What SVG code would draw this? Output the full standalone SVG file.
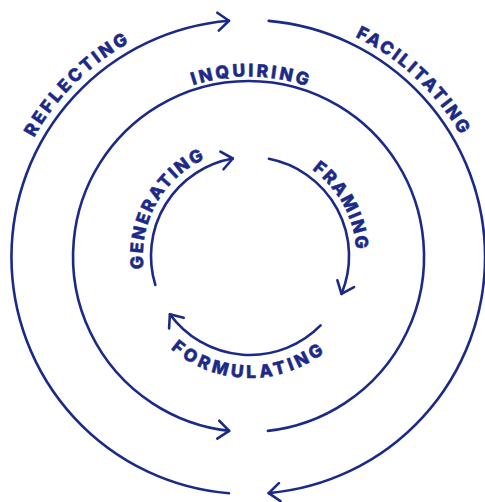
<svg xmlns="http://www.w3.org/2000/svg" width="485" height="502" viewBox="0 0 485 502">
  <style>
    .ring { fill: none; stroke: #1c2a87; stroke-width: 2.6; stroke-linecap: round; }
    .lbl { font-family: "Inter", "Open Sans", "Liberation Sans", sans-serif; font-weight: 800; font-size: 17.5px; fill: #1c2a87; stroke: #1c2a87; stroke-width: 0.5; stroke-linejoin: round; }
  </style>
  <defs>
    <marker id="chev" markerUnits="userSpaceOnUse" markerWidth="30" markerHeight="30" refX="0" refY="0" viewBox="-15 -15 30 30" orient="auto" overflow="visible">
      <path d="M-11,-9 L0,0 L-11,9" fill="none" stroke="#1c2a87" stroke-width="2.6" stroke-linecap="round" stroke-linejoin="round"/>
    </marker>
    <!-- baselines for the labels -->
    <path id="tp-reflecting" d="M47.3,397.5 A245,245 0 0 1 388.5,56.3"/>
    <path id="tp-facilitating" d="M100.6,61.3 A245,245 0 0 1 453.5,390.4"/>
    <path id="tp-inquiring" d="M71.5,223.7 A180,180 0 0 1 426,226.8"/>
    <path id="tp-generating" d="M182.6,339.1 A107,107 0 0 1 284.8,154.8"/>
    <path id="tp-framing" d="M215.5,155.7 A106,106 0 0 1 316.7,338.4"/>
    <path id="tp-formulating" d="M129.3,273.9 A122,122 0 0 0 369.5,280.3"/>
  </defs>

  <g id="connectors">
    <!-- outer cycle -->
    <path class="ring" d="M229,493.2 A237,237 0 0 1 229,20.8" marker-end="url(#chev)"/>
    <path class="ring" d="M268.7,20.9 A237,237 0 0 1 268.7,493.1" marker-end="url(#chev)"/>
    <!-- middle cycle -->
    <path class="ring" d="M267.9,430.9 A175.5,175.5 0 1 0 229.2,430.9" marker-end="url(#chev)"/>
    <!-- inner cycle -->
    <path class="ring" d="M155.3,284.9 A99,99 0 0 1 232.8,158.5" marker-end="url(#chev)"/>
    <path class="ring" d="M268.9,158.8 A99,99 0 0 1 341.5,293.9" marker-end="url(#chev)"/>
    <path class="ring" d="M320.6,325.4 A99,99 0 0 1 169.9,314.2" marker-end="url(#chev)"/>
  </g>

  <g id="reflecting">
    <text class="lbl"><textPath href="#tp-reflecting" startOffset="50%" text-anchor="middle" textLength="136" lengthAdjust="spacing">REFLECTING</textPath></text>
  </g>
  <g id="facilitating">
    <text class="lbl"><textPath href="#tp-facilitating" startOffset="50%" text-anchor="middle" textLength="146" lengthAdjust="spacing">FACILITATING</textPath></text>
  </g>
  <g id="inquiring">
    <text class="lbl"><textPath href="#tp-inquiring" startOffset="50%" text-anchor="middle" textLength="116" lengthAdjust="spacing">INQUIRING</textPath></text>
  </g>
  <g id="generating">
    <text class="lbl"><textPath href="#tp-generating" startOffset="50%" text-anchor="middle" textLength="134" lengthAdjust="spacing">GENERATING</textPath></text>
  </g>
  <g id="framing">
    <text class="lbl"><textPath href="#tp-framing" startOffset="50%" text-anchor="middle" textLength="94" lengthAdjust="spacing">FRAMING</textPath></text>
  </g>
  <g id="formulating">
    <text class="lbl"><textPath href="#tp-formulating" startOffset="50%" text-anchor="middle" textLength="166" lengthAdjust="spacing">FORMULATING</textPath></text>
  </g>
</svg>
